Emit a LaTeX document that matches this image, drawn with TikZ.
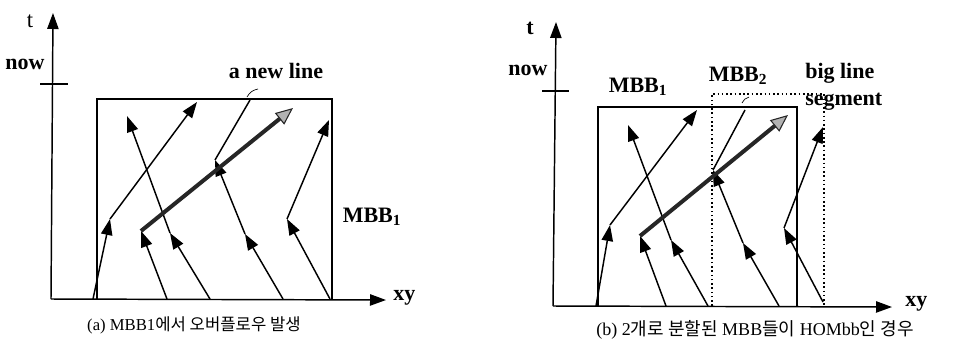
\documentclass[tikz,border=0pt]{standalone}
\usepackage{fontspec}
\setmainfont{Liberation Serif}
\newfontfamily\cjk{Noto Sans CJK KR}
\newcommand{\kr}[1]{{\cjk #1}}
\usetikzlibrary{arrows.meta}
\tikzset{
  seg/.style={-{Triangle[length=12pt,width=8.5pt]}, line width=1.1pt},
  bigseg/.style={-{Triangle[length=13pt,width=11pt,fill=gray!60,line width=0.8pt]}, line width=3pt, black!85},
  plain/.style={line width=1.1pt},
  axis/.style={-{Triangle[length=12pt,width=8.5pt]}, line width=1.1pt},
  lbl/.style={font=\bfseries\fontsize{16.5}{18}\selectfont, inner sep=0pt},
  captxt/.style={font=\fontsize{12.5}{14}\selectfont, inner sep=0pt},
}
\begin{document}
\begin{tikzpicture}[x=0.75pt,y=-0.75pt]
        \useasboundingbox (0,0) rectangle (970,354);
        % (a) overflow in MBB1
        \coordinate (ao) at (51,299);
        \coordinate (aty) at (53,13);
        \coordinate (ax) at (386,300);
        \draw[axis] (ao) -- (aty);
        \draw[axis] (ao) -- (ax);
        \coordinate (anl) at (40,84);
        \coordinate (anr) at (68,84);
        \draw[plain] (anl) -- (anr);
        \draw[plain] (97,299) -- (97,99) -- (332,99) -- (332,299);
        \foreach \n/\p in {1/{93,299},2/{110,219},3/{197,102}}{\coordinate (la\n) at (\p);}
        \foreach \n/\p in {1/{167,299},2/{141,231},3/{293,108}}{\coordinate (lb\n) at (\p);}
        \foreach \n/\p in {1/{210,299},2/{170,233},3/{127,116}}{\coordinate (lc\n) at (\p);}
        \foreach \n/\p in {1/{283,299},2/{245,234},3/{215,160},4/{250,100}}{\coordinate (ld\n) at (\p);}
        \foreach \n/\p in {1/{330,299},2/{287,219},3/{329,120}}{\coordinate (le\n) at (\p);}
        \foreach \u/\v in {la1/la2,la2/la3,lb1/lb2,lc1/lc2,lc2/lc3,ld1/ld2,ld2/ld3,le1/le2,le2/le3}{\draw[seg] (\u) -- (\v);}
        \draw[plain] (ld3) -- (ld4);
        \draw[bigseg] (lb2) -- (lb3);
        \coordinate (ap1) at (247,97);
        \coordinate (ap2) at (258,89);
        \draw[line width=0.5pt] (ap1) to[bend left=25] (ap2);
        \node[font=\fontsize{17}{18}\selectfont, inner sep=0pt] (alt) at (30,21) {t};
        \node[lbl] (alnow) at (25,64) {now};
        \node[lbl] (alnew) at (276,71) {a new line};
        \node[lbl] (alm) at (372,217) {MBB\textsubscript{1}};
        \node[lbl, anchor=west] (alxy) at (393,298) {xy};
        \node[captxt] (acap) at (194,325) {(a) MBB1\kr{에서 오버플로우 발생}};
        % (b) two split MBBs are HOMbb
        \coordinate (bo) at (553,306);
        \coordinate (bty) at (556,22);
        \coordinate (bx) at (892,307);
        \draw[axis] (bo) -- (bty);
        \draw[axis] (bo) -- (bx);
        \coordinate (bnl) at (542,91);
        \coordinate (bnr) at (569,91);
        \draw[plain] (bnl) -- (bnr);
        \draw[plain] (598,306) -- (598,107) -- (797,107) -- (797,306);
        \draw[line width=1.2pt, dotted] (712,306) -- (712,94) -- (824,94) -- (824,306);
        \foreach \n/\p in {1/{596,306},2/{610,225},3/{697,110}}{\coordinate (ra\n) at (\p);}
        \foreach \n/\p in {1/{666,306},2/{640,236},3/{788,115}}{\coordinate (rb\n) at (\p);}
        \foreach \n/\p in {1/{708,306},2/{671,240},3/{628,125}}{\coordinate (rc\n) at (\p);}
        \foreach \n/\p in {1/{779,306},2/{743,243},3/{713,170},4/{745,110}}{\coordinate (rd\n) at (\p);}
        \foreach \n/\p in {1/{823,302},2/{784,228},3/{823,127}}{\coordinate (re\n) at (\p);}
        \foreach \u/\v in {ra1/ra2,ra2/ra3,rb1/rb2,rc1/rc2,rc2/rc3,rd1/rd2,rd2/rd3,re1/re2,re2/re3}{\draw[seg] (\u) -- (\v);}
        \draw[plain] (rd3) -- (rd4);
        \draw[bigseg] (rb2) -- (rb3);
        \coordinate (bp1) at (742,103);
        \coordinate (bp2) at (749,97);
        \draw[line width=0.5pt] (bp1) to[bend left=25] (bp2);
        \node[lbl] (blt) at (530,28) {t};
        \node[lbl] (blnow) at (528,70) {now};
        \node[lbl] (blm1) at (638,87) {MBB\textsubscript{1}};
        \node[lbl] (blm2) at (738,76) {MBB\textsubscript{2}};
        \node[lbl, anchor=west] (blbig) at (805,73) {big line};
        \node[lbl, anchor=west] (blseg) at (805,102) {segment};
        \node[lbl, anchor=west] (blxy) at (905,304) {xy};
        \node[captxt, font=\fontsize{13.5}{15}\selectfont] (bcap) at (755,330) {(b) 2\kr{개로 분할된} MBB\kr{들이} HOMbb\kr{인 경우}};
    \end{tikzpicture}
\end{document}
